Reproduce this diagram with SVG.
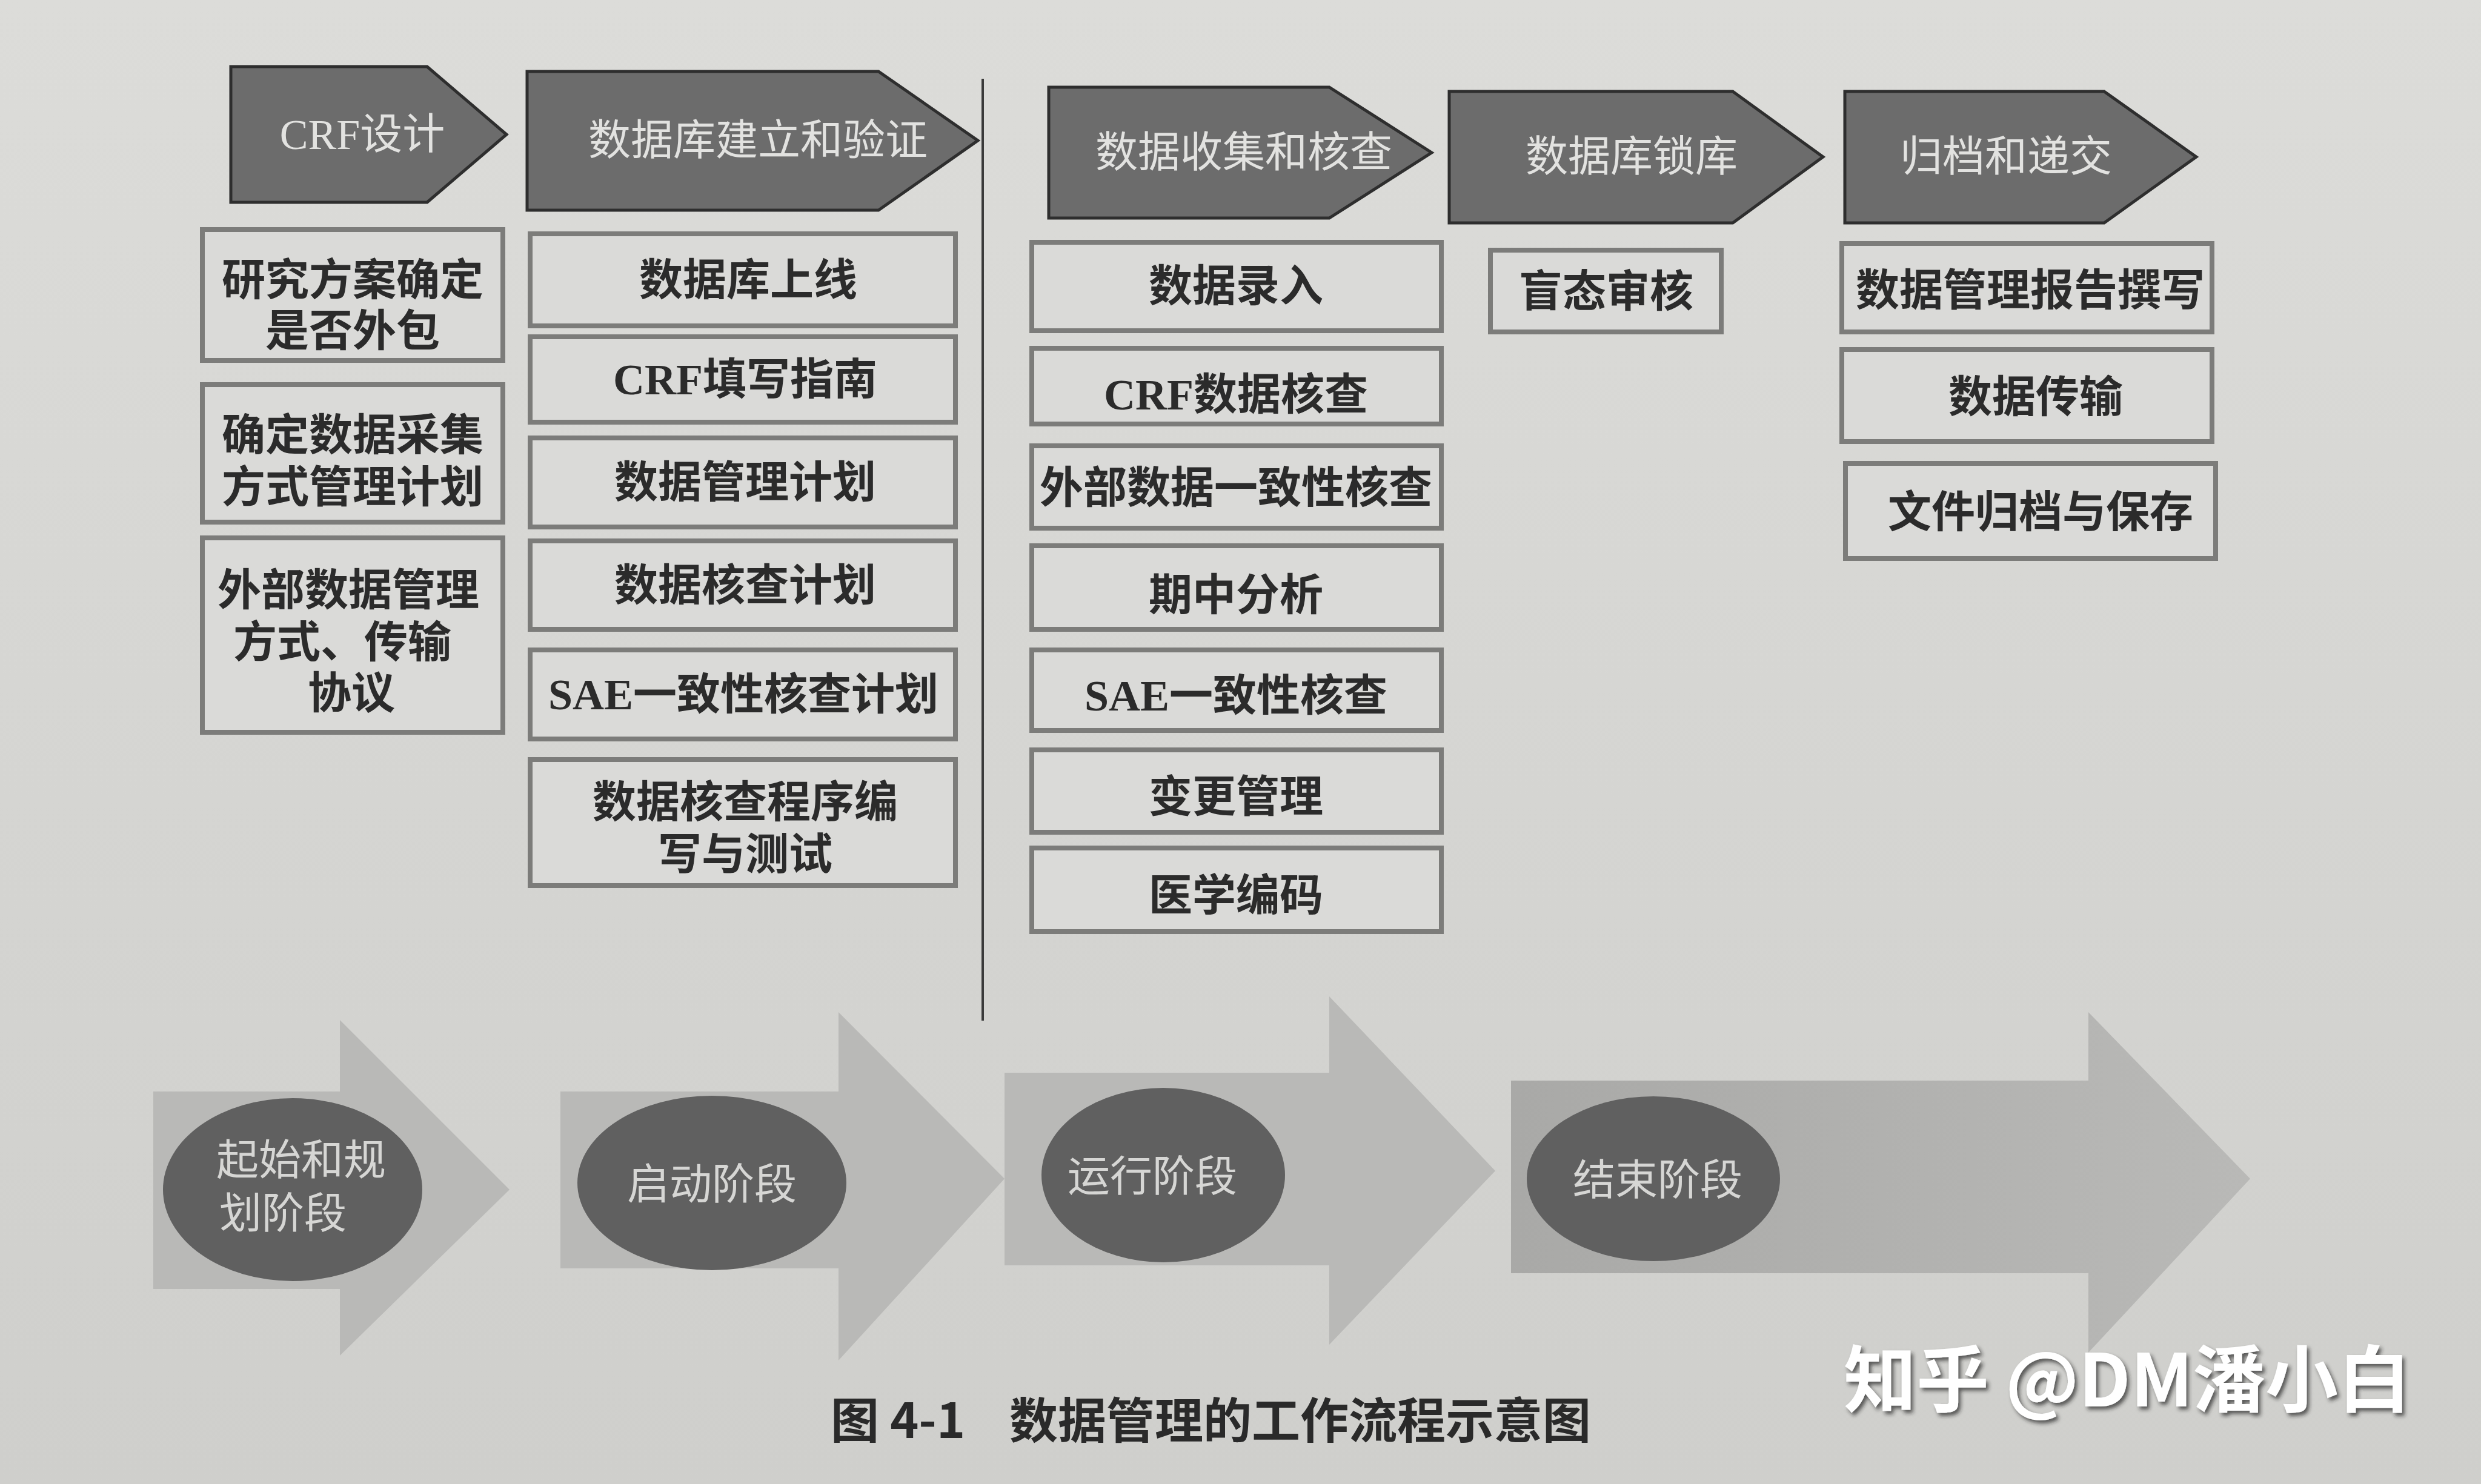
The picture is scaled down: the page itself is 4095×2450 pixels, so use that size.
<svg xmlns="http://www.w3.org/2000/svg" width="4095" height="2450" viewBox="0 0 4095 2450">
<defs>
<linearGradient id="bg" x1="0" y1="0" x2="0" y2="1">
<stop offset="0" stop-color="#dcdcd9"/>
<stop offset="1" stop-color="#cfcfcc"/>
</linearGradient>
<linearGradient id="a4" x1="0" y1="0" x2="1" y2="0">
<stop offset="0" stop-color="#a9a9a7"/>
<stop offset="1" stop-color="#b9b9b7"/>
</linearGradient>
<filter id="sh" x="-5%" y="-5%" width="110%" height="120%">
<feDropShadow dx="4" dy="5" stdDeviation="3" flood-color="#222" flood-opacity="0.7"/>
</filter>
</defs>
<style>
.hd{fill:#6c6c6c;stroke:#2e2e2e;stroke-width:5;stroke-linejoin:miter}
.hdt{font-family:"Liberation Serif","Noto Sans CJK SC",serif;font-size:70px;fill:#e2e2e0;text-anchor:middle}
.bx{fill:#dadad8;stroke:#7c7c7a;stroke-width:8}
.bt{font-family:"Liberation Serif","Noto Sans CJK SC",serif;font-size:72px;font-weight:bold;fill:#2b2b2b;text-anchor:middle}
.ar{fill:#b9b9b7}
.el{fill:#606060}
.et{font-family:"Liberation Sans","Noto Sans CJK SC",sans-serif;font-size:70px;fill:#d6d6d4;text-anchor:middle}
.cap{font-family:"Noto Sans CJK SC",sans-serif;font-size:80px;font-weight:bold;fill:#2a2a2a}
.wm{font-family:"Noto Sans CJK SC",sans-serif;font-size:120px;font-weight:bold;fill:#ffffff}
</style>
<rect x="0" y="0" width="4095" height="2450" fill="url(#bg)"/>

<g id="connectors">
<line x1="1622" y1="130" x2="1622" y2="1685" stroke="#3a3a3a" stroke-width="4"/>
</g>

<g id="phase-bg">
<g id="phase1"><path class="ar" d="M253,1802 H561 V1684 L841,1964 L561,2238 V2128 H253 Z" fill="#bdbdbb"/>
<ellipse class="el" cx="483" cy="1964" rx="214" ry="151"/>
<text class="et" x="497" y="1940">起始和规</text><text class="et" x="467" y="2028">划阶段</text></g>
<g id="phase2"><path class="ar" d="M925,1802 H1384 V1671 L1658,1946 L1384,2246 V2094 H925 Z"/>
<ellipse class="el" cx="1175" cy="1953" rx="222" ry="144"/>
<text class="et" x="1175" y="1980">启动阶段</text></g>
<g id="phase3"><path class="ar" d="M1658,1771 H2194 V1645 L2468,1933 L2194,2220 V2089 H1658 Z" fill="#b5b5b3"/>
<ellipse class="el" cx="1920" cy="1940" rx="201" ry="144"/>
<text class="et" x="1902" y="1967">运行阶段</text></g>
<g id="phase4"><path d="M2494,1784 H3447 V1671 L3714,1946 L3447,2233 V2102 H2494 Z" fill="url(#a4)"/>
<ellipse class="el" cx="2729" cy="1946" rx="209" ry="136"/>
<text class="et" x="2736" y="1973">结束阶段</text></g>
</g>

<g id="h1"><polygon class="hd" points="381,110 705,110 836,222 705,334 381,334"/><text class="hdt" x="598" y="246">CRF设计</text></g>
<g id="h2"><polygon class="hd" points="870,118 1450,118 1614,232 1450,347 870,347"/><text class="hdt" x="1251" y="256">数据库建立和验证</text></g>
<g id="h3"><polygon class="hd" points="1731,144 2194,144 2363,252 2194,360 1731,360"/><text class="hdt" x="2053" y="276">数据收集和核查</text></g>
<g id="h4"><polygon class="hd" points="2392,151 2860,151 3009,259 2860,368 2392,368"/><text class="hdt" x="2693" y="283">数据库锁库</text></g>
<g id="h5"><polygon class="hd" points="3045,151 3473,151 3625,259 3473,368 3045,368"/><text class="hdt" x="3311" y="283">归档和递交</text></g>

<g id="c1a"><rect class="bx" x="334" y="379" width="496" height="216"/><text class="bt" x="582" y="487">研究方案确定</text><text class="bt" x="582" y="571">是否外包</text></g>
<g id="c1b"><rect class="bx" x="334" y="635" width="496" height="227"/><text class="bt" x="582" y="743">确定数据采集</text><text class="bt" x="582" y="829">方式管理计划</text></g>
<g id="c1c"><rect class="bx" x="334" y="888" width="496" height="321"/><text class="bt" x="575" y="999">外部数据管理</text><text class="bt" x="565" y="1085">方式、传输</text><text class="bt" x="580" y="1169">协议</text></g>

<g id="c2a"><rect class="bx" x="875" y="386" width="702" height="152"/><text class="bt" x="1235" y="487">数据库上线</text></g>
<g id="c2b"><rect class="bx" x="875" y="556" width="702" height="141"/><text class="bt" x="1230" y="651">CRF填写指南</text></g>
<g id="c2c"><rect class="bx" x="875" y="723" width="702" height="147"/><text class="bt" x="1230" y="821">数据管理计划</text></g>
<g id="c2d"><rect class="bx" x="875" y="893" width="702" height="146"/><text class="bt" x="1230" y="991">数据核查计划</text></g>
<g id="c2e"><rect class="bx" x="875" y="1073" width="702" height="147"/><text class="bt" x="1227" y="1171">SAE一致性核查计划</text></g>
<g id="c2f"><rect class="bx" x="875" y="1254" width="702" height="208"/><text class="bt" x="1230" y="1349">数据核查程序编</text><text class="bt" x="1230" y="1435">写与测试</text></g>

<g id="c3a"><rect class="bx" x="1703" y="400" width="676" height="146"/><text class="bt" x="2040" y="497">数据录入</text></g>
<g id="c3b"><rect class="bx" x="1703" y="575" width="676" height="125"/><text class="bt" x="2040" y="676">CRF数据核查</text></g>
<g id="c3c"><rect class="bx" x="1703" y="736" width="676" height="136"/><text class="bt" x="2040" y="830">外部数据一致性核查</text></g>
<g id="c3d"><rect class="bx" x="1703" y="901" width="676" height="138"/><text class="bt" x="2040" y="1007">期中分析</text></g>
<g id="c3e"><rect class="bx" x="1703" y="1073" width="676" height="133"/><text class="bt" x="2040" y="1173">SAE一致性核查</text></g>
<g id="c3f"><rect class="bx" x="1703" y="1238" width="676" height="136"/><text class="bt" x="2040" y="1340">变更管理</text></g>
<g id="c3g"><rect class="bx" x="1703" y="1400" width="676" height="138"/><text class="bt" x="2040" y="1503">医学编码</text></g>

<g id="c4a"><rect class="bx" x="2460" y="413" width="381" height="135"/><text class="bt" x="2651" y="506">盲态审核</text></g>

<g id="c5a"><rect class="bx" x="3040" y="402" width="611" height="146"/><text class="bt" x="3351" y="504">数据管理报告撰写</text></g>
<g id="c5b"><rect class="bx" x="3040" y="577" width="611" height="152"/><text class="bt" x="3360" y="680">数据传输</text></g>
<g id="c5c"><rect class="bx" x="3046" y="765" width="611" height="157"/><text class="bt" x="3368" y="870">文件归档与保存</text></g>

<text class="cap" x="1371" y="2374">图 4-1</text>
<text class="cap" x="1666" y="2374">数据管理的工作流程示意图</text>
<text class="wm" x="3043" y="2322" filter="url(#sh)">知乎 @DM潘小白</text>
</svg>
